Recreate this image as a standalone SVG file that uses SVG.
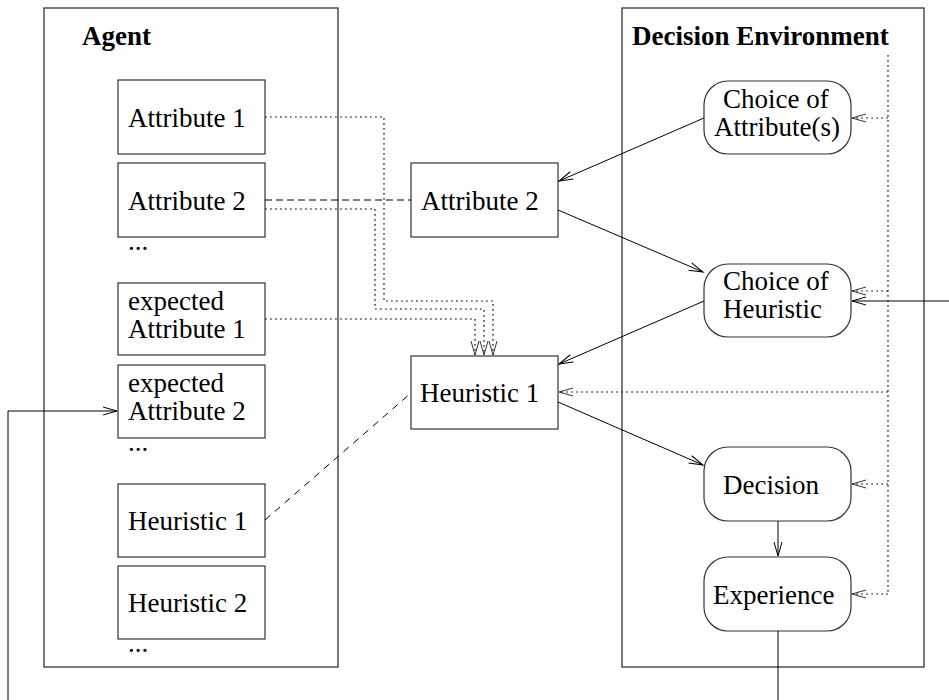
<svg xmlns="http://www.w3.org/2000/svg" width="949" height="700" viewBox="0 0 949 700">
  <style>
    .frame { fill: none; stroke: #444; stroke-width: 1.4; }
    .box { fill: #fff; stroke: #333; stroke-width: 1.2; }
    .t { font-family: "Liberation Serif", "Times New Roman", serif; font-size: 27px; fill: #000; }
    .title { font-family: "Liberation Serif", "Times New Roman", serif; font-size: 27px; font-weight: bold; fill: #000; }
    .solid { fill: none; stroke: #000; stroke-width: 1; }
    .dot { fill: none; stroke: #111; stroke-width: 1.2; stroke-dasharray: 1.8 3.2; }
    .dash { fill: none; stroke: #000; stroke-width: 1; stroke-dasharray: 7 4; }
    .dash2 { fill: none; stroke: #000; stroke-width: 1; stroke-dasharray: 7 6; }
  </style>
  <defs>
    <marker id="open" markerUnits="userSpaceOnUse" markerWidth="20" markerHeight="12" viewBox="-16 -6 18 12" refX="0" refY="0" orient="auto">
      <path d="M-14,-4 L0,0 L-14,4" fill="none" stroke="#000" stroke-width="1"/>
    </marker>
    <marker id="openGrey" markerUnits="userSpaceOnUse" markerWidth="20" markerHeight="12" viewBox="-16 -6 18 12" refX="0" refY="0" orient="auto">
      <path d="M-14,-4 L0,0 L-14,4" fill="none" stroke="#333" stroke-width="1"/>
    </marker>
  </defs>
  <rect width="949" height="700" fill="#fff"/>

  <!-- container frames -->
  <g id="agent">
    <rect class="frame" x="44" y="8" width="294" height="659"/>
    <text class="title" x="82" y="45">Agent</text>
  </g>
  <g id="environment">
    <rect class="frame" x="622" y="8" width="302" height="659"/>
    <text class="title" x="632" y="45">Decision Environment</text>
  </g>

  <!-- agent column -->
  <g id="agent-attr1">
    <rect class="box" x="118" y="80" width="147" height="74"/>
    <text class="t" x="128" y="127">Attribute 1</text>
  </g>
  <g id="agent-attr2">
    <rect class="box" x="118" y="163" width="147" height="74"/>
    <text class="t" x="128" y="210">Attribute 2</text>
    <text class="t" x="128" y="250" font-size="18">...</text>
  </g>
  <g id="agent-exp-attr1">
    <rect class="box" x="118" y="283" width="147" height="72"/>
    <text class="t" x="128" y="310">expected<tspan x="128" dy="28">Attribute 1</tspan></text>
  </g>
  <g id="agent-exp-attr2">
    <rect class="box" x="118" y="365" width="147" height="73"/>
    <text class="t" x="128" y="392">expected<tspan x="128" dy="28">Attribute 2</tspan></text>
    <text class="t" x="128" y="451" font-size="18">...</text>
  </g>
  <g id="agent-heur1">
    <rect class="box" x="118" y="484" width="147" height="73"/>
    <text class="t" x="128" y="530">Heuristic 1</text>
  </g>
  <g id="agent-heur2">
    <rect class="box" x="118" y="566" width="147" height="73"/>
    <text class="t" x="128" y="612">Heuristic 2</text>
    <text class="t" x="128" y="652" font-size="18">...</text>
  </g>

  <!-- selected items -->
  <g id="sel-attr2">
    <rect class="box" x="411" y="163" width="147" height="74"/>
    <text class="t" x="421" y="210">Attribute 2</text>
  </g>
  <g id="sel-heur1">
    <rect class="box" x="411" y="356" width="147" height="73"/>
    <text class="t" x="420" y="402">Heuristic 1</text>
  </g>

  <!-- environment steps -->
  <g id="choice-attr">
    <rect class="box" x="704" y="81" width="147" height="73" rx="24" ry="24"/>
    <text class="t" x="723" y="108">Choice of<tspan x="714" dy="28">Attribute(s)</tspan></text>
  </g>
  <g id="choice-heur">
    <rect class="box" x="704" y="264" width="147" height="73" rx="24" ry="24"/>
    <text class="t" x="723" y="290">Choice of<tspan x="723" dy="28">Heuristic</tspan></text>
  </g>
  <g id="decision">
    <rect class="box" x="704" y="447" width="147" height="74" rx="24" ry="24"/>
    <text class="t" x="723" y="494">Decision</text>
  </g>
  <g id="experience">
    <rect class="box" x="704" y="557" width="147" height="74" rx="24" ry="24"/>
    <text class="t" x="713" y="604">Experience</text>
  </g>

  <g id="connectors">
    <!-- main flow -->
    <line class="solid" x1="704" y1="118" x2="559" y2="181" marker-end="url(#open)"/>
    <line class="solid" x1="558" y1="210" x2="703" y2="272" marker-end="url(#open)"/>
    <line class="solid" x1="704" y1="301" x2="559" y2="364" marker-end="url(#open)"/>
    <line class="solid" x1="558" y1="402" x2="703" y2="465" marker-end="url(#open)"/>
    <line class="solid" x1="778" y1="521" x2="778" y2="556" marker-end="url(#open)"/>

    <!-- feedback from experience to the agent -->
    <polyline class="solid" points="778,631 778,700"/>
    <polyline class="solid" points="8,700 8,411 117,411" marker-end="url(#open)"/>
    <line class="solid" x1="949" y1="301" x2="852" y2="301" marker-end="url(#open)"/>

    <!-- environment context (dotted) -->
    <line class="dot" x1="888" y1="55" x2="888" y2="594"/>
    <line class="dot" x1="888" y1="118" x2="852" y2="118" marker-end="url(#openGrey)"/>
    <line class="dot" x1="888" y1="291" x2="852" y2="291" marker-end="url(#openGrey)"/>
    <line class="dot" x1="888" y1="392" x2="559" y2="392" marker-end="url(#openGrey)"/>
    <line class="dot" x1="888" y1="484" x2="852" y2="484" marker-end="url(#openGrey)"/>
    <line class="dot" x1="888" y1="594" x2="852" y2="594" marker-end="url(#openGrey)"/>

    <!-- attributes feeding the heuristic -->
    <polyline class="dot" points="265,117 384,117 384,301 493,301 493,355" marker-end="url(#openGrey)"/>
    <polyline class="dot" points="265,209 375,209 375,309 484,309 484,355" marker-end="url(#openGrey)"/>
    <polyline class="dot" points="265,319 475,319 475,355" marker-end="url(#openGrey)"/>

    <!-- instance links -->
    <line class="dash" x1="265" y1="200" x2="411" y2="200"/>
    <line class="dash2" x1="265" y1="520" x2="411" y2="393"/>
  </g>
</svg>
